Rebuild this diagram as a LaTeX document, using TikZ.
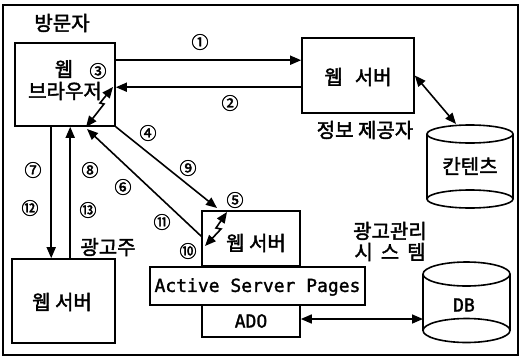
\documentclass[tikz,border=0pt]{standalone}
\usepackage{fontspec}
\setmainfont{Noto Sans CJK KR}
\newfontfamily\krb{Noto Sans CJK KR}[FakeBold=2]
\newfontfamily\monof{DejaVu Sans Mono}[FakeBold=1.5]
\usetikzlibrary{arrows.meta,calc}
\tikzset{
 lw/.style={line width=1.6pt},
 box/.style={draw, line width=1.6pt, inner sep=0pt},
 kt/.style={font=\krb\fontsize{20}{22}\selectfont, inner sep=0pt},
 num/.style={font=\krb\fontsize{17}{17}\selectfont, inner sep=0pt},
 mt/.style={font=\monof\fontsize{18}{20}\selectfont, inner sep=0pt},
 arr/.style={line width=1.6pt, -{Triangle[length=11pt,width=9pt]}},
 darr/.style={line width=1.6pt, line join=miter, {Triangle[length=11pt,width=9pt]}-{Triangle[length=11pt,width=9pt]}},
}
\begin{document}
\begin{tikzpicture}[x=1pt,y=-1pt]
\useasboundingbox (0,0) rectangle (521,359);
\draw[lw] (3,5) rectangle (518,355);

% visitor
\node[kt] (vis) at (62,23) {방문자};
\node[box, minimum width=100pt, minimum height=83pt] (br) at (65,84.5) {};
\node[kt] (brt1) at (64,69) {웹};
\node[kt] (brt2) at (65,91) {브라우저};

% info provider
\node[box, minimum width=112pt, minimum height=75pt] (ws1) at (358,75.5) {};
\node[kt] (ws1t) at (358,77) {웹\hspace{12pt}서버};
\node[kt] (prov) at (365,130) {정보 제공자};

% contents cylinder
\draw[lw] (427,134) -- (427,199) (513,134) -- (513,199);
\draw[lw] (470,134) ellipse [x radius=43, y radius=9];
\draw[lw] (470,199) ellipse [x radius=43, y radius=9];
\node[kt] (cont) at (470,166) {칸텐츠};
\coordinate (contTop) at (456,124);

% ad management system
\node[box, minimum width=98pt, minimum height=55pt] (ads) at (251,238.5) {};
\node[kt] (adst) at (256,243) {웹 서버};
\node[box, minimum width=215pt, minimum height=38pt] (asp) at (257.5,286) {};
\node[mt] (aspt) at (257.5,287) {Active Server Pages};
\node[box, minimum width=98pt, minimum height=32pt] (ado) at (251,321) {};
\node[mt] (adot) at (251,321) {ADO};
\node[kt] (sys1) at (390,231) {광고관리};
\node[kt] (sys2) at (390,252) {시\hspace{8pt}스\hspace{8pt}템};

% DB cylinder
\draw[lw] (423,274) -- (423,330.5) (510,274) -- (510,330.5);
\draw[lw] (466.5,274) ellipse [x radius=43.5, y radius=12];
\draw[lw] (466.5,330.5) ellipse [x radius=43.5, y radius=12];
\node[mt] (db) at (464,305) {DB};
\coordinate (dbL) at (423,319);

% advertiser
\node[box, minimum width=103pt, minimum height=84pt] (adv) at (63.5,301) {};
\node[kt] (advt) at (62,302) {웹 서버};
\node[kt] (advl) at (108,247) {광고주};

% connectors
\draw[arr] ($(br.north east)+(0,18)$) -- ($(ws1.north west)+(0,23)$);
\draw[arr] ($(ws1.north west)+(0,50)$) -- ($(br.north east)+(0,45)$);
\draw[darr] (ws1.east) -- (contTop);
\draw[darr] ($(ado.east)+(0,-2)$) -- (dbL);

\coordinate (t3a) at (113,87);
\coordinate (t3d) at (86,127);
\draw[darr] (t3a) -- (100,103) -- (104,104) -- (t3d);

\coordinate (t5a) at (227,212);
\coordinate (t5d) at (205,246);
\draw[darr] (t5a) -- (216,228) -- (221,229) -- (t5d);

\coordinate (t49) at (217,208);
\draw[arr] (br.south east) -- (t49);
\coordinate (t611) at (87,129);
\draw[arr] ($(ads.north west)+(0,26)$) -- (t611);
\draw[arr] ($(br.south west)+(37,0)$) -- ($(adv.north west)+(40,0)$);
\draw[arr] ($(adv.north west)+(59,0)$) -- ($(br.south west)+(56,0)$);

% numbers
\node[num] (n1) at (200,42) {①};
\node[num] (n2) at (230,103) {②};
\node[num] (n3) at (98,71) {③};
\node[num] (n4) at (148,133) {④};
\node[num] (n5) at (235,200) {⑤};
\node[num] (n6) at (123,187) {⑥};
\node[num] (n7) at (33,170) {⑦};
\node[num] (n8) at (90,170) {⑧};
\node[num] (n9) at (188,168) {⑨};
\node[num] (n10) at (188,251) {⑩};
\node[num] (n11) at (162,222) {⑪};
\node[num] (n12) at (30,208) {⑫};
\node[num] (n13) at (88,210) {⑬};
\end{tikzpicture}
\end{document}
